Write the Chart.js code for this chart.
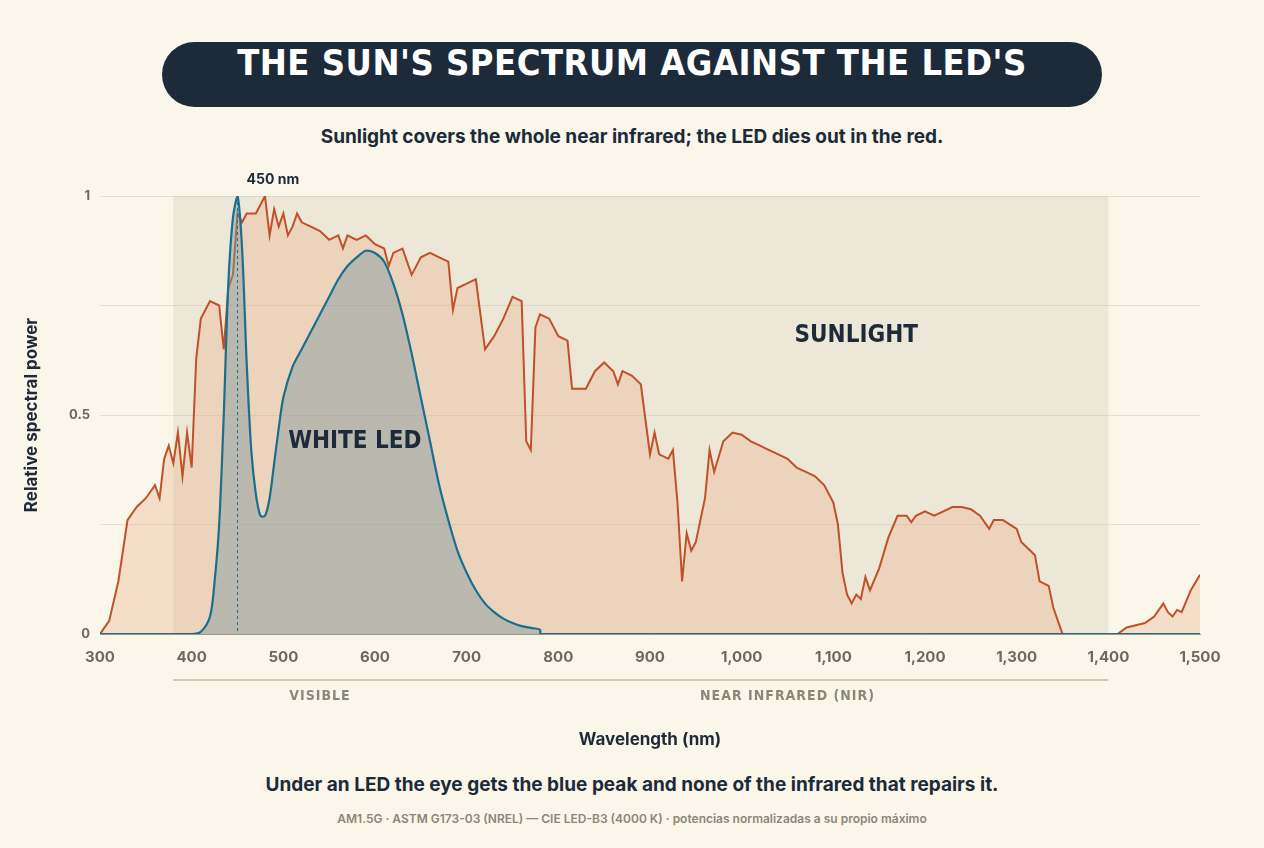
<!DOCTYPE html>
<html><head><meta charset="utf-8">
<script src="https://cdn.jsdelivr.net/npm/chart.js@4.4.1/dist/chart.umd.min.js"></script>
<style>
body{margin:0;background:#faf6e9;width:1264px;height:848px;overflow:hidden;font-family:Inter,"Noto Sans",sans-serif;position:relative}
.pill{position:absolute;left:162px;top:42px;width:940px;height:65px;border-radius:33px;background:#1c2a3a;color:#fff;text-align:center;line-height:65px;font:bold 36px "DejaVu Sans Condensed",sans-serif;letter-spacing:0.5px}
.t{position:absolute;left:0;width:1264px;text-align:center;color:#1c2a3a}
canvas{position:absolute;left:0;top:170px}
</style></head><body>
<div class="pill">THE SUN'S SPECTRUM AGAINST THE LED'S</div>
<div class="t" style="top:125px;font-weight:700;font-size:19px">Sunlight covers the whole near infrared; the LED dies out in the red.</div>
<div class="t" style="top:773px;font-weight:700;font-size:19px">Under an LED the eye gets the blue peak and none of the infrared that repairs it.</div>
<div class="t" style="top:811px;font-size:12px;font-weight:600;color:#8a8778">AM1.5G · ASTM G173-03 (NREL) — CIE LED-B3 (4000 K) · potencias normalizadas a su propio máximo</div>
<canvas id="c" width="1264" height="600"></canvas>
<script>
const sunNm=[300,310,320,330,340,350,360,365,370,375,380,385,390,395,400,405,410,420,430,435,440,445,450,455,460,470,480,485,490,495,500,505,510,515,520,530,540,550,560,565,570,580,590,600,610,615,620,630,640,650,660,670,680,685,690,700,710,720,730,740,750,760,765,770,775,780,790,800,810,815,820,830,840,850,860,865,870,880,890,900,905,910,920,925,930,935,940,945,950,960,965,970,980,990,1000,1010,1020,1030,1040,1050,1060,1070,1080,1090,1100,1105,1110,1115,1120,1125,1130,1135,1140,1150,1160,1170,1180,1185,1190,1200,1210,1220,1230,1240,1250,1260,1270,1275,1285,1300,1305,1315,1320,1325,1335,1340,1350,1400,1410,1420,1430,1440,1450,1460,1465,1470,1475,1480,1490,1500];
const sunVal=[0,0.03,0.12,0.26,0.29,0.31,0.34,0.31,0.40,0.43,0.39,0.46,0.36,0.46,0.38,0.63,0.72,0.76,0.75,0.65,0.79,0.82,0.96,0.94,0.96,0.96,1.0,0.91,0.97,0.93,0.96,0.91,0.93,0.96,0.94,0.93,0.92,0.90,0.91,0.88,0.91,0.90,0.91,0.89,0.88,0.84,0.87,0.88,0.82,0.86,0.87,0.86,0.85,0.74,0.79,0.80,0.81,0.65,0.68,0.72,0.77,0.76,0.44,0.42,0.70,0.73,0.72,0.68,0.67,0.56,0.56,0.56,0.60,0.62,0.60,0.57,0.60,0.59,0.57,0.41,0.46,0.41,0.40,0.42,0.30,0.12,0.23,0.19,0.21,0.31,0.42,0.37,0.44,0.46,0.455,0.44,0.43,0.42,0.41,0.40,0.38,0.37,0.36,0.34,0.30,0.25,0.14,0.09,0.07,0.09,0.08,0.13,0.10,0.15,0.22,0.27,0.27,0.255,0.27,0.28,0.27,0.28,0.29,0.29,0.285,0.27,0.24,0.26,0.26,0.24,0.21,0.19,0.18,0.12,0.11,0.06,0,0,0,0.015,0.02,0.025,0.04,0.07,0.05,0.04,0.055,0.05,0.10,0.135];
const ledNm=[300,400,410,420,425,430,435,440,445,450,455,460,465,470,475,480,485,490,495,500,510,520,530,540,550,560,570,580,590,600,610,620,630,640,650,660,670,680,690,700,710,720,730,740,750,760,770,780,781,1500];
const ledVal=[0,0,0.005,0.04,0.12,0.25,0.5,0.8,0.95,1.0,0.88,0.62,0.42,0.32,0.27,0.27,0.31,0.39,0.47,0.54,0.61,0.65,0.69,0.73,0.77,0.81,0.84,0.86,0.875,0.87,0.85,0.80,0.73,0.64,0.54,0.44,0.34,0.26,0.19,0.14,0.10,0.07,0.05,0.035,0.025,0.018,0.014,0.01,0,0];
const xTicks=[300,400,500,600,700,800,900,1000,1100,1200,1300,1400,1500];
const yLabels=[0,0.5,1];
const bands=[[380,700],[700,1400]];

const deco={id:'deco',
 beforeDatasetsDraw(ch){const {ctx,chartArea:a,scales:{x,y}}=ch;ctx.save();
  ctx.fillStyle='rgba(200,195,170,0.28)';
  bands.forEach(b=>ctx.fillRect(x.getPixelForValue(b[0]),a.top,x.getPixelForValue(b[1])-x.getPixelForValue(b[0]),a.bottom-a.top));
  ctx.restore();},
 afterDatasetsDraw(ch){const {ctx,chartArea:a,scales:{x,y}}=ch;ctx.save();
  const px=x.getPixelForValue(450);
  ctx.strokeStyle='#1a6e8e';ctx.setLineDash([3,3]);ctx.lineWidth=1;
  ctx.beginPath();ctx.moveTo(px,y.getPixelForValue(1));ctx.lineTo(px,a.bottom);ctx.stroke();ctx.setLineDash([]);
  ctx.fillStyle='#1c2a3a';ctx.font='bold 14px Inter';ctx.textAlign='left';ctx.textBaseline='alphabetic';
  ctx.fillText('450 nm',px+9,a.top-12);
  ctx.font='bold 24px "DejaVu Sans Condensed"';ctx.textAlign='center';ctx.textBaseline='middle';
  ctx.fillText('WHITE LED',x.getPixelForValue(578),y.getPixelForValue(0.44));
  ctx.fillText('SUNLIGHT',x.getPixelForValue(1125),y.getPixelForValue(0.68));
  // band labels
  const by=a.bottom+46;
  ctx.strokeStyle='#cfcab5';ctx.lineWidth=2;ctx.beginPath();
  ctx.moveTo(x.getPixelForValue(380),by);ctx.lineTo(x.getPixelForValue(1400),by);ctx.stroke();
  ctx.fillStyle='#8a8778';ctx.font='bold 14px "DejaVu Sans Condensed"';ctx.letterSpacing='1px';
  ctx.fillText('VISIBLE',x.getPixelForValue(540),by+16);
  ctx.fillText('NEAR INFRARED (NIR)',x.getPixelForValue(1050),by+16);
  ctx.letterSpacing='0px';
  ctx.fillStyle='#1c2a3a';ctx.font='bold 17px Inter';
  ctx.fillText('Wavelength (nm)',(a.left+a.right)/2,a.bottom+106);
  ctx.translate(32,(a.top+a.bottom)/2);ctx.rotate(-Math.PI/2);
  ctx.fillText('Relative spectral power',0,0);
  ctx.restore();}
};
new Chart(document.getElementById('c'),{
 type:'line',
 data:{datasets:[
  {label:'LED',data:ledNm.map((n,i)=>({x:n,y:ledVal[i]})),borderColor:'#1a6e8e',backgroundColor:'rgba(125,150,160,0.45)',fill:'origin',borderWidth:2.2,pointRadius:0,tension:0.3,order:0},
  {label:'Sun',data:sunNm.map((n,i)=>({x:n,y:sunVal[i]})),borderColor:'#c0502a',backgroundColor:'rgba(235,165,125,0.3)',fill:'origin',borderWidth:2,pointRadius:0,tension:0,order:1}
 ]},
 options:{responsive:false,animation:false,
  layout:{padding:{left:0,right:64,top:26,bottom:0}},
  plugins:{legend:{display:false},tooltip:{enabled:false}},
  scales:{
   x:{type:'linear',min:300,max:1500,afterFit:s=>{s.height=136},
      afterBuildTicks:s=>{s.ticks=xTicks.map(v=>({value:v}))},
      grid:{display:false,drawOnChartArea:false},border:{color:'#9a978a',width:1},
      ticks:{color:'#6b6a60',font:{family:'Inter',size:15,weight:'bold'},padding:6}},
   y:{min:0,max:1,afterFit:s=>{s.width=100},
      ticks:{stepSize:0.25,color:'#6b6a60',font:{family:'Inter',size:13,weight:'bold'},padding:10,
        callback:v=>yLabels.includes(v)?String(v):''},
      grid:{color:'#e4dfcf',drawTicks:false},border:{display:false}}
  }},
 plugins:[deco]
});
</script></body></html>
